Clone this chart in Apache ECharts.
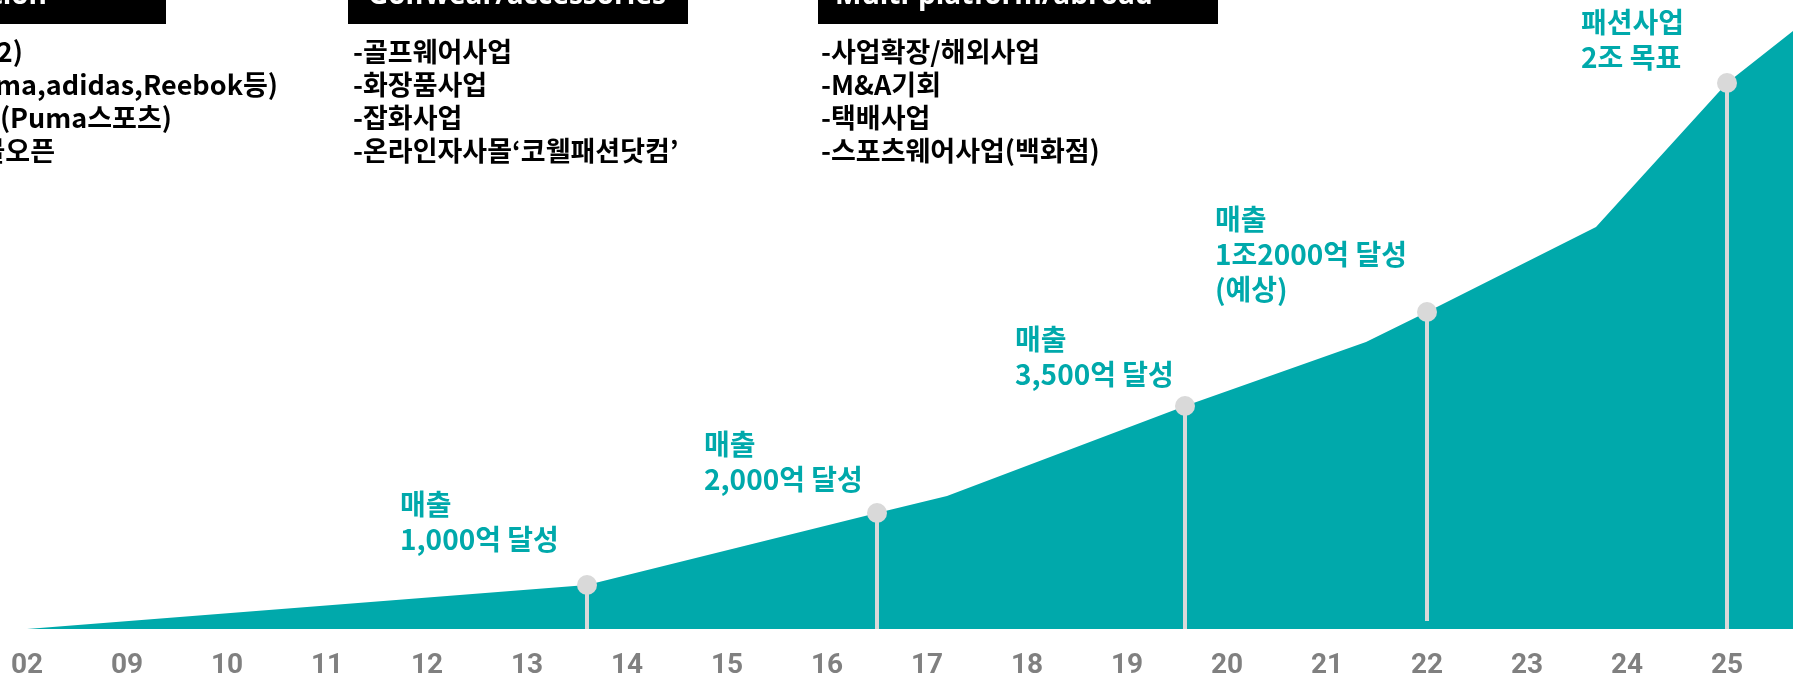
<!DOCTYPE html>
<html>
<head>
<meta charset="utf-8">
<script src="https://cdn.jsdelivr.net/npm/echarts@6/dist/echarts.min.js"></script>
<style>
html, body { margin: 0; padding: 0; background: #fff; }
#main { width: 1800px; height: 680px; }
</style>
</head>
<body>
<div id="main"></div>
<script>
// 연도 눈금
var yearLabels = ['02', '09', '10', '11', '12', '13', '14', '15', '16', '17', '18', '19', '20', '21', '22', '23', '24', '25'];

// 성장 곡선 (x: 눈금 위치, y: 높이 지수)
var areaX = [0, 5.6, 8.5, 9.2, 11.58, 13.39, 14.0, 15.69, 17.0, 17.66];
var areaY = [0, 44, 116, 133, 223, 287, 317, 402, 546, 598];

// 매출 마일스톤
var milestoneX = [5.6, 8.5, 11.58, 14.0, 17.0];
var milestoneY = [44, 116, 223, 317, 546];
var stemBase = [0, 0, 0, 8, 0];
var milestoneText = [
    '매출\n1,000억 달성',
    '매출\n2,000억 달성',
    '매출\n3,500억 달성',
    '매출\n1조2000억 달성\n(예상)',
    '패션사업\n2조 목표'
];

// 상단 사업 단계
var stageTitles = ['Sports brand/distribution', 'Golfwear/accessories', 'Multi-platform/abroad'];
var stage1 = ['-회사설립(2002)', '-해외브랜드 대리점(Puma,adidas,Reebok등)', '-라이선스 계약 (Puma스포츠)', '-온라인 쇼핑몰오픈'];
var stage2 = ['-골프웨어사업', '-화장품사업', '-잡화사업', '-온라인자사몰‘코웰패션닷컴’'];
var stage3 = ['-사업확장/해외사업', '-M&A기회', '-택배사업', '-스포츠웨어사업(백화점)'];

var TEAL = '#00a9ab';
var KR = '"Noto Sans CJK KR", "Noto Sans", sans-serif';

var myChart = echarts.init(document.getElementById('main'), null, {renderer: 'canvas'});

var areaData = areaX.map(function (x, i) { return [x, areaY[i]]; });
var markData = milestoneX.map(function (x, i) { return [x, milestoneY[i]]; });
var stemData = milestoneX.map(function (x, i) { return [x, milestoneY[i], stemBase[i]]; });

// 상단 박스 + 목록
var graphics = [];
var boxes = [[-200, 166], [348, 688], [818, 1218]];
boxes.forEach(function (b) {
    graphics.push({
        type: 'rect', z: 10,
        shape: {x: b[0], y: 0, width: b[1] - b[0], height: 24},
        style: {fill: '#000'}
    });
});
graphics.push({type: 'text', z: 11, style: {text: stageTitles[0], x: 47, y: -4, align: 'right', verticalAlign: 'middle', fill: '#fff', font: 'bold 28px "Open Sans", sans-serif'}});
graphics.push({type: 'text', z: 11, style: {text: stageTitles[1], x: 368, y: -4, align: 'left', verticalAlign: 'middle', fill: '#fff', font: 'bold 28px "Open Sans", sans-serif'}});
graphics.push({type: 'text', z: 11, style: {text: stageTitles[2], x: 835, y: -4, align: 'left', verticalAlign: 'middle', fill: '#fff', font: 'bold 28px "Open Sans", sans-serif'}});

var lineY = [52, 85, 118, 151];
var col1Right = [23, 278, 172, 55];
stage1.forEach(function (t, i) {
    graphics.push({type: 'text', z: 11, style: {text: t, x: col1Right[i], y: lineY[i], align: 'right', verticalAlign: 'middle', fill: '#000', font: 'bold 27px ' + KR}});
});
stage2.forEach(function (t, i) {
    graphics.push({type: 'text', z: 11, style: {text: t, x: 353, y: lineY[i], align: 'left', verticalAlign: 'middle', fill: '#000', font: 'bold 27px ' + KR}});
});
stage3.forEach(function (t, i) {
    graphics.push({type: 'text', z: 11, style: {text: t, x: 821, y: lineY[i], align: 'left', verticalAlign: 'middle', fill: '#000', font: 'bold 27px ' + KR}});
});

// 마일스톤 문구
var notePos = [[400, 487], [704, 427], [1015, 322], [1215, 202], [1581, 5]];
milestoneText.forEach(function (t, i) {
    graphics.push({
        type: 'text', z: 11,
        style: {text: t, x: notePos[i][0], y: notePos[i][1], align: 'left', verticalAlign: 'top', lineHeight: 35, fill: TEAL, font: 'bold 28px ' + KR}
    });
});

var option = {
    animation: false,
    backgroundColor: '#fff',
    grid: {left: 27, right: 7, top: 31, bottom: 51},
    xAxis: {
        type: 'value',
        min: 0,
        max: 17.66,
        interval: 1,
        axisLine: {show: false},
        axisTick: {show: false},
        splitLine: {show: false},
        axisLabel: {
            margin: 23,
            color: '#808080',
            fontSize: 28,
            fontWeight: 'bold',
            fontFamily: 'Roboto, sans-serif',
            formatter: function (v) {
                return Number.isInteger(v) && yearLabels[v] ? yearLabels[v] : '';
            }
        }
    },
    yAxis: {
        type: 'value',
        min: 0,
        max: 598,
        show: false,
        splitLine: {show: false}
    },
    series: [
        {
            type: 'line',
            data: areaData,
            symbol: 'none',
            z: 1,
            lineStyle: {width: 0},
            areaStyle: {color: TEAL, opacity: 1}
        },
        {
            type: 'custom',
            z: 2,
            data: stemData,
            encode: {x: 0, y: 1},
            renderItem: function (params, api) {
                var top = api.coord([api.value(0), api.value(1)]);
                var bottom = api.coord([api.value(0), api.value(2)]);
                return {
                    type: 'line',
                    shape: {x1: top[0], y1: top[1], x2: bottom[0], y2: bottom[1]},
                    style: {stroke: '#d9d9d9', lineWidth: 4}
                };
            }
        },
        {
            type: 'scatter',
            z: 3,
            data: markData,
            symbolSize: 20,
            itemStyle: {color: '#d9d9d9', opacity: 1}
        }
    ],
    graphic: graphics
};

myChart.setOption(option);
</script>
</body>
</html>
